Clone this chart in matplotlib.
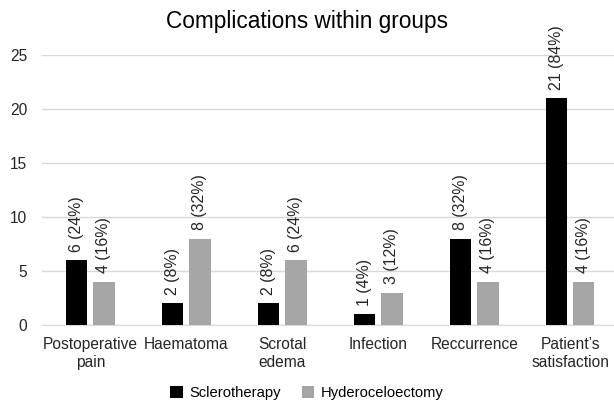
import numpy as np
import matplotlib.pyplot as plt

plt.rcParams['font.family'] = ['Liberation Sans', 'DejaVu Sans']

categories = ['Postoperative\npain', 'Haematoma', 'Scrotal\nedema', 'Infection',
              'Reccurrence', 'Patient\u2019s\nsatisfaction']
sclero = [6, 2, 2, 1, 8, 21]
hydro = [4, 8, 6, 3, 4, 4]
sclero_lbl = ['6 (24%)', '2 (8%)', '2 (8%)', '1 (4%)', '8 (32%)', '21 (84%)']
hydro_lbl = ['4 (16%)', '8 (32%)', '6 (24%)', '3 (12%)', '4 (16%)', '4 (16%)']

fig = plt.figure(figsize=(6.14, 4.05), dpi=100)
ax = fig.add_axes([0.069, 0.1975, 0.938, 0.667])

x = np.arange(len(categories))
w = 0.22
off = 0.142
b1 = ax.bar(x - off, sclero, w, color='black', label='Sclerotherapy', zorder=3)
b2 = ax.bar(x + off, hydro, w, color='#a6a6a6', label='Hyderoceloectomy', zorder=3)

for bars, labels in [(b1, sclero_lbl), (b2, hydro_lbl)]:
    for rect, lab in zip(bars, labels):
        ax.annotate(lab, (rect.get_x() + rect.get_width() / 2, rect.get_height()),
                    xytext=(0, 6), textcoords='offset points', rotation=90,
                    ha='center', va='bottom', fontsize=11.4, color='#262626')

ax.set_xlim(-0.5, len(categories) - 0.5)
ax.set_ylim(0, 25)
ax.set_yticks([0, 5, 10, 15, 20, 25])
ax.set_xticks(x)
ax.set_xticklabels(categories, fontsize=11.2, color='#262626', linespacing=1.3)
ax.tick_params(axis='y', labelsize=11.2, colors='#262626', length=0, pad=11)
ax.tick_params(axis='x', length=0, pad=8.5)
ax.yaxis.grid(True, color='#d9d9d9', linewidth=1, zorder=0)
for s in ['top', 'right', 'left']:
    ax.spines[s].set_visible(False)
ax.spines['bottom'].set_color('#d9d9d9')

fig.text(0.5, 0.946, 'Complications within groups', ha='center', va='center',
         fontsize=16.3, color='black')
fig.legend(loc='center', bbox_to_anchor=(0.5, 0.03), ncol=2, frameon=False,
           fontsize=10.6, handlelength=0.85, handleheight=0.85, columnspacing=1.4,
           handletextpad=0.45)

fig.savefig('out.png', dpi=100)
